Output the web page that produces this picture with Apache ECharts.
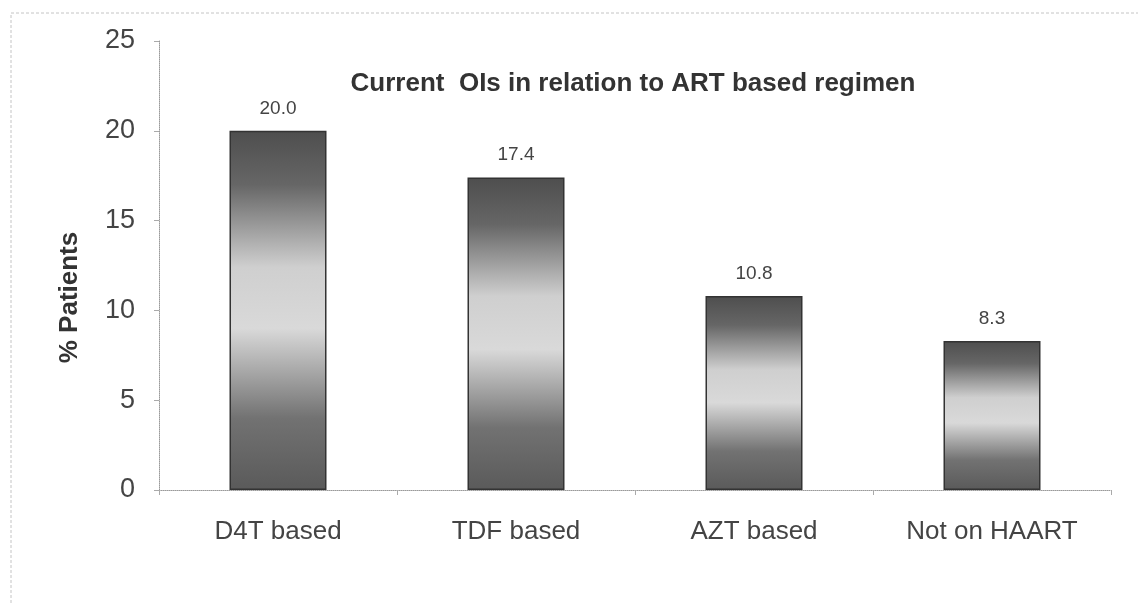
<!DOCTYPE html>
<html>
<head>
<meta charset="utf-8">
<script src="https://cdn.jsdelivr.net/npm/echarts@6/dist/echarts.min.js"></script>
<style>
  html, body { margin: 0; padding: 0; background: #fff; }
  #chart { width: 1138px; height: 605px; }
</style>
</head>
<body>
<div id="chart"></div>
<script>
const categories = ['D4T based', 'TDF based', 'AZT based', 'Not on HAART'];
const patientPct = [20.0, 17.4, 10.8, 8.3];
const yTicks = { min: 0, max: 25, interval: 5 };

const font = '"Liberation Sans", Arial, sans-serif';

// bars are shaded dark at the top, light in the middle, dark again at the base
const barFill = new echarts.graphic.LinearGradient(0, 0, 0, 1, [
  { offset: 0, color: '#4e4e4e' },
  { offset: 0.15, color: '#666' },
  { offset: 0.38, color: '#cfcfcf' },
  { offset: 0.55, color: '#d9d9d9' },
  { offset: 0.8, color: '#727272' },
  { offset: 1, color: '#5a5a5a' },
]);

const myChart = echarts.init(document.getElementById('chart'));
myChart.setOption({
  animation: false,
  backgroundColor: '#fff',
  title: {
    text: 'Current  OIs in relation to ART based regimen',
    left: 628,
    textAlign: 'center',
    top: 66,
    textStyle: { fontFamily: font, fontSize: 26, fontWeight: 'bold', color: '#333' },
  },
  graphic: [
    {
      type: 'rect',
      shape: { x: 11, y: 13, width: 1140, height: 600 },
      style: { fill: 'none', stroke: '#c4c4c4', lineWidth: 1, lineDash: [3, 2] },
      silent: true,
    },
  ],
  grid: { left: 159, right: 27, top: 41, bottom: 115 },
  xAxis: {
    type: 'category',
    data: categories,
    axisLine: { lineStyle: { color: '#9a9a9a', type: 'dotted' } },
    axisTick: { show: true, length: 5, lineStyle: { color: '#aaa' } },
    axisLabel: { fontFamily: font, fontSize: 26, color: '#444', margin: 29 },
  },
  yAxis: {
    type: 'value',
    min: yTicks.min,
    max: yTicks.max,
    interval: yTicks.interval,
    name: '% Patients',
    nameLocation: 'middle',
    nameGap: 76,
    nameTextStyle: {
      fontFamily: font, fontSize: 26, fontWeight: 'bold', color: '#333',
      padding: [0, 64, 0, 0],
    },
    axisLine: { show: true, lineStyle: { color: '#9a9a9a', type: 'dotted' } },
    axisTick: { show: true, length: 5, lineStyle: { color: '#aaa' } },
    splitLine: { show: false },
    axisLabel: { fontFamily: font, fontSize: 27, color: '#444', margin: 24 },
  },
  series: [
    {
      type: 'bar',
      data: patientPct,
      barWidth: 97,
      itemStyle: { color: barFill, borderColor: '#333', borderWidth: 1.5 },
      label: {
        show: true,
        position: 'top',
        distance: 13,
        fontFamily: font,
        fontSize: 19,
        color: '#444',
        formatter: (p) => p.value.toFixed(1),
      },
    },
  ],
});
</script>
</body>
</html>
